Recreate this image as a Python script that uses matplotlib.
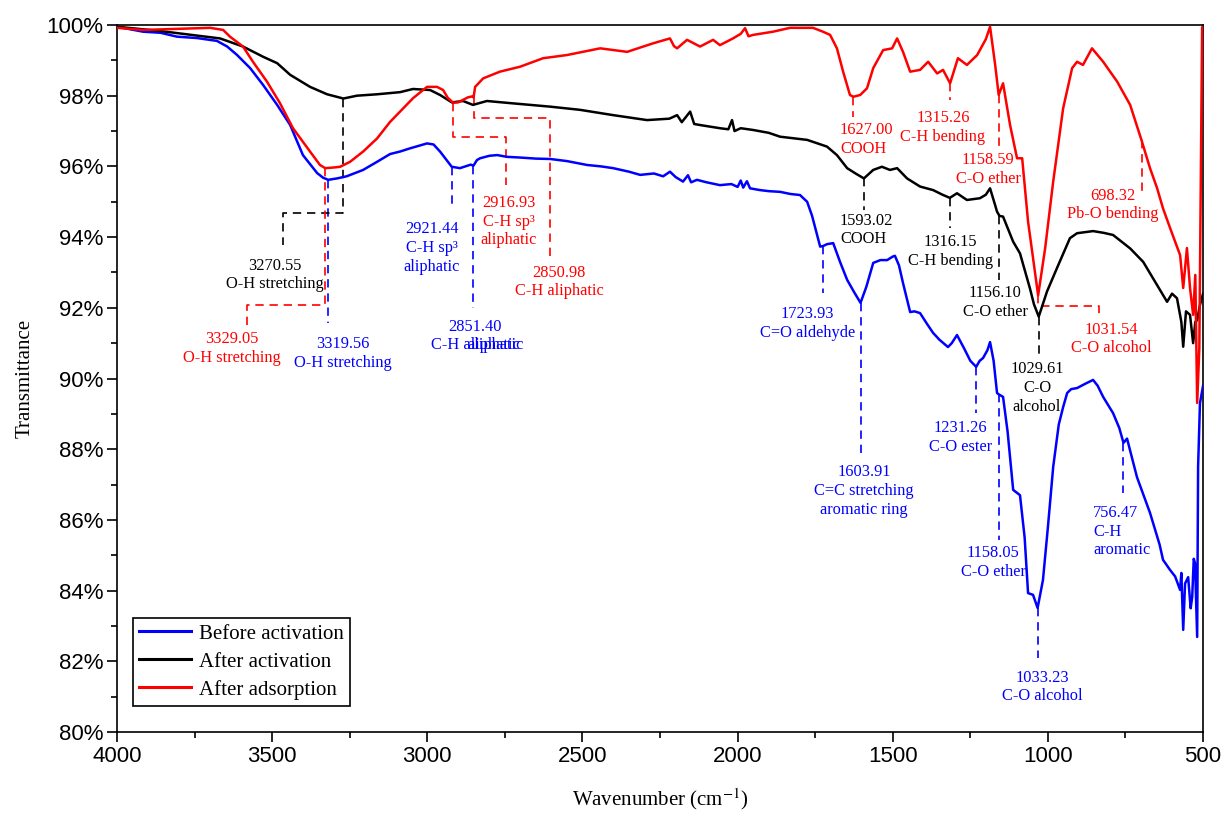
import numpy as np
import matplotlib
matplotlib.use("Agg")
import matplotlib.pyplot as plt
from matplotlib.ticker import MultipleLocator, PercentFormatter
from matplotlib.transforms import IdentityTransform

# FTIR spectra (wavenumber in cm-1, transmittance in %)
wn_before = [4000, 3916, 3860, 3807, 3742, 3678, 3645, 3613, 3571, 3529, 3484, 3442, 3401, 3355, 3336,
             3319.56, 3291, 3260, 3207, 3162, 3120, 3088, 3056, 3001, 2980, 2959, 2940, 2921.44, 2895,
             2870, 2860, 2851.40, 2840, 2830, 2800, 2775, 2743, 2700, 2650, 2604, 2550, 2485, 2440, 2401,
             2350, 2314, 2270, 2240, 2218, 2200, 2176, 2160, 2150, 2131, 2100, 2057, 2020, 2000, 1990,
             1982, 1970, 1960, 1928, 1900, 1863, 1830, 1799, 1776, 1760, 1745, 1734, 1723.93, 1712, 1692,
             1670, 1647, 1625, 1603.91, 1585, 1563, 1540, 1518, 1500, 1493, 1480, 1467, 1444, 1430, 1412,
             1390, 1370, 1350, 1322, 1310, 1293, 1270, 1250, 1231.26, 1220, 1209, 1195, 1186.5, 1175, 1164,
             1158.05, 1144.6, 1130, 1112, 1090, 1075, 1064, 1048, 1033.23, 1016, 1000, 983, 965, 951, 938,
             925, 906, 880, 854.5, 840, 822, 790, 770, 756.47, 745, 713, 671, 640, 629, 606, 590, 574, 570,
             564, 558, 548, 540, 535, 530, 526, 519, 516, 510, 500]
t_before = [99.95, 99.81, 99.78, 99.67, 99.63, 99.55, 99.39, 99.15, 98.78, 98.30, 97.74, 97.17, 96.32, 95.81, 95.68,
            95.62, 95.66, 95.72, 95.90, 96.13, 96.35, 96.42, 96.51, 96.65, 96.62, 96.42, 96.20, 95.99, 95.95,
            96.02, 96.05, 96.02, 96.18, 96.23, 96.30, 96.32, 96.27, 96.25, 96.22, 96.21, 96.15, 96.04, 96.00, 95.95,
            95.85, 95.76, 95.80, 95.72, 95.85, 95.70, 95.57, 95.75, 95.55, 95.62, 95.55, 95.47, 95.50, 95.42, 95.60,
            95.40, 95.58, 95.38, 95.33, 95.30, 95.28, 95.22, 95.19, 95.00, 94.60, 94.10, 93.73, 93.75, 93.80, 93.83,
            93.30, 92.79, 92.45, 92.14, 92.60, 93.27, 93.35, 93.35, 93.45, 93.47, 93.20, 92.70, 91.88, 91.90, 91.85,
            91.55, 91.29, 91.10, 90.89, 91.00, 91.23, 90.85, 90.50, 90.33, 90.50, 90.58, 90.80, 91.03, 90.50, 89.59,
            89.55, 89.48, 88.50, 86.85, 86.70, 85.50, 83.93, 83.88, 83.51, 84.30, 85.80, 87.50, 88.70, 89.19, 89.59,
            89.70, 89.73, 89.85, 89.96, 89.80, 89.48, 89.02, 88.60, 88.18, 88.30, 87.21, 86.20, 85.30, 84.87, 84.58, 84.40, 84.02, 84.50,
            82.89, 84.20, 84.38, 83.50, 83.82, 84.90, 84.78, 82.69, 87.50, 89.30, 89.80]

wn_after = [4000, 3861, 3742, 3668, 3594, 3529, 3484, 3442, 3378, 3323, 3270.55, 3227, 3162, 3088, 3046,
            2991, 2959, 2921, 2885, 2853, 2808, 2733, 2604, 2508, 2401, 2292, 2220, 2195, 2180, 2153, 2140,
            2121, 2057, 2030, 2018, 2010, 1990, 1950, 1900, 1863, 1776, 1712, 1680, 1647, 1620, 1593.02,
            1563, 1535, 1509, 1486, 1454, 1412, 1370, 1340, 1316.15, 1293, 1261, 1219, 1200, 1186.5, 1170,
            1164, 1156.10, 1144.6, 1112, 1090, 1058, 1045, 1029.61, 1003, 971, 929, 906, 854.5, 820, 790,
            735, 693, 648, 616, 600, 584, 570, 564, 555, 542, 532, 525, 519, 510, 500]
t_after = [99.95, 99.83, 99.70, 99.62, 99.39, 99.10, 98.92, 98.59, 98.25, 98.04, 97.92, 98.00, 98.04, 98.10, 98.19,
           98.16, 98.02, 97.81, 97.85, 97.74, 97.85, 97.79, 97.69, 97.60, 97.45, 97.31, 97.35, 97.45, 97.25, 97.55, 97.20,
           97.17, 97.08, 97.05, 97.31, 97.00, 97.08, 97.03, 96.95, 96.84, 96.75, 96.56, 96.32, 95.95, 95.80, 95.66,
           95.90, 95.99, 95.90, 95.95, 95.66, 95.43, 95.33, 95.20, 95.11, 95.24, 95.05, 95.10, 95.20, 95.38, 94.90,
           94.72, 94.60, 94.58, 93.87, 93.54, 92.55, 92.10, 91.75, 92.46, 93.12, 93.97, 94.11, 94.17, 94.12, 94.06,
           93.68, 93.30, 92.64, 92.17, 92.40, 92.27, 91.60, 90.90, 91.90, 91.80, 91.00, 91.60, 91.65, 92.08, 92.40]

wn_ads = [4000, 3916, 3807, 3700, 3658, 3636, 3594, 3562, 3517, 3475, 3433, 3378, 3346, 3329.05, 3300,
          3281, 3249, 3207, 3162, 3120, 3078, 3046, 3001, 2969, 2949, 2935, 2916.93, 2901, 2870, 2856,
          2850.98, 2846, 2820, 2766, 2701, 2627, 2550, 2443, 2356, 2273, 2218, 2205, 2195, 2163, 2121,
          2079, 2057, 2015, 1990, 1976, 1965, 1950, 1886, 1831, 1757, 1725, 1702, 1680, 1660, 1638,
          1627.00, 1605, 1583, 1563, 1531, 1502, 1486, 1467, 1444, 1412, 1386, 1357, 1338, 1315.26, 1290,
          1261, 1228, 1200, 1186.5, 1170, 1158.59, 1144.6, 1122, 1099.5, 1083, 1064, 1031.54, 1009, 983,
          951, 922, 906, 887, 858, 822, 777, 735, 698.32, 671, 648, 629, 606, 574, 564, 552, 542, 532,
          525, 519, 512, 503, 500]
t_ads = [99.92, 99.86, 99.89, 99.92, 99.86, 99.67, 99.39, 98.96, 98.40, 97.79, 97.08, 96.42, 96.04, 95.95, 95.97,
         95.99, 96.13, 96.42, 96.79, 97.26, 97.64, 97.93, 98.25, 98.25, 98.16, 97.95, 97.80, 97.81, 97.95, 97.98,
         97.95, 98.25, 98.49, 98.68, 98.82, 99.06, 99.15, 99.34, 99.24, 99.48, 99.62, 99.40, 99.34, 99.58, 99.39,
         99.58, 99.43, 99.62, 99.75, 99.91, 99.68, 99.72, 99.81, 99.92, 99.92, 99.81, 99.72, 99.34, 98.68, 98.02,
         97.97, 98.02, 98.21, 98.78, 99.29, 99.34, 99.62, 99.24, 98.68, 98.73, 98.96, 98.63, 98.73, 98.35, 99.06,
         98.87, 99.15, 99.60, 99.95, 98.87, 98.02, 98.35, 97.17, 96.23, 96.23, 94.44, 92.35, 93.68, 95.57,
         97.64, 98.78, 98.96, 98.87, 99.34, 98.96, 98.40, 97.74, 96.74, 95.95, 95.38, 94.81, 94.25, 93.49, 92.56, 93.69, 92.56, 91.80,
         92.93, 89.31, 90.86, 99.94, 99.94]

# band assignments
peaks_before = [3319.56, 2921.44, 2851.40, 1723.93, 1603.91, 1231.26, 1158.05, 1033.23, 756.47]
labels_before = ["O-H stretching", "C-H sp³\naliphatic", "C-H aliphatic", "C=O aldehyde",
                 "C=C stretching\naromatic ring", "C-O ester", "C-O ether", "C-O alcohol", "C-H\naromatic"]
peaks_after = [3270.55, 1593.02, 1316.15, 1156.10, 1029.61]
labels_after = ["O-H stretching", "COOH", "C-H bending", "C-O ether", "C-O\nalcohol"]
peaks_ads = [3329.05, 2916.93, 2850.98, 1627.00, 1315.26, 1158.59, 1031.54, 698.32]
labels_ads = ["O-H stretching", "C-H sp³\naliphatic", "C-H aliphatic", "COOH", "C-H bending",
              "C-O ether", "C-O alcohol", "Pb-O bending"]

# label placement: (text x, text y, ha, leader end y, elbow x or None, elbow y)
layout_before = [(3272, 90.71, "center", 91.57, None, None),
                 (2985, 93.69, "center", 94.82, None, None),
                 (2846, 91.20, "center", 91.99, None, None),
                 (1776, 91.56, "center", 92.42, None, None),
                 (1592, 86.82, "center", 87.89, None, None),
                 (1283, 88.33, "center", 89.02, None, None),
                 (1177, 84.80, "center", 85.43, None, None),
                 (1019, 81.27, "center", 82.09, None, None),
                 (854, 85.67, "left", 86.76, None, None)]
layout_after = [(3491, 92.93, "center", 93.78, 3465, 94.68),
                (1670, 94.20, "left", 94.77, None, None),
                (1314, 93.59, "center", 94.25, None, None),
                (1170, 92.15, "center", 92.79, None, None),
                (1035, 89.73, "center", 90.66, None, None)]
layout_ads = [(3629, 90.85, "center", 91.51, 3582, 92.08),
              (2737, 94.44, "center", 95.47, 2746, 96.84),
              (2575, 92.73, "center", 93.41, 2604, 97.36),
              (1670, 96.76, "left", 97.40, None, None),
              (1338, 97.10, "center", 97.88, None, None),
              (1193, 95.91, "center", 96.46, None, None),
              (796, 91.12, "center", 91.80, 834, 92.05),
              (790, 94.91, "center", 95.24, None, None)]

plt.rcParams["font.family"] = "Liberation Sans"
plt.rcParams["mathtext.fontset"] = "stix"
serif = "Liberation Serif"

fig = plt.figure(figsize=(12.23, 8.14), dpi=100)
ax = fig.add_axes([0.0957, 0.1007, 0.888, 0.8686])

series = [(wn_before, t_before, "#0000FF", "Before activation", peaks_before, labels_before, layout_before),
          (wn_after, t_after, "black", "After activation", peaks_after, labels_after, layout_after),
          (wn_ads, t_ads, "#FF0000", "After adsorption", peaks_ads, labels_ads, layout_ads)]

for wn, t, col, name, pk, lab, lay in series:
    ax.plot(wn, t, color=col, lw=1.8, label=name, zorder=3)

texts = {}
for wn, t, col, name, pk, lab, lay in series:
    wn_arr = np.array(wn)[::-1]
    t_arr = np.array(t)[::-1]
    for p, txt, (tx, ty, ha, y_end, ex, ey) in zip(pk, lab, lay):
        y0 = np.interp(p, wn_arr, t_arr)
        if ex is None:
            xs, ys = [p, p], [y0, y_end]
        else:
            xs, ys = [p, p, ex, ex], [y0, ey, ey, y_end]
        ax.plot(xs, ys, color=col, lw=1.2, linestyle=(0, (5, 3.5)), zorder=2)
        texts[(name, p)] = ax.text(tx, ty, f"{p:.2f}\n{txt}", color=col, fontsize=11.8, family=serif,
                                   ha=ha, va="center", linespacing=1.22, zorder=4)

ax.set_xlim(4000, 500)
ax.set_ylim(80, 100)
ax.xaxis.set_major_locator(MultipleLocator(500))
ax.xaxis.set_minor_locator(MultipleLocator(250))
ax.yaxis.set_major_locator(MultipleLocator(2))
ax.yaxis.set_minor_locator(MultipleLocator(1))
ax.yaxis.set_major_formatter(PercentFormatter(xmax=100, decimals=0))
ax.tick_params(which="both", direction="out", top=False, right=False, width=1.2)
ax.tick_params(which="major", length=7, labelsize=16, pad=3)
ax.tick_params(which="minor", length=4)
for s in ax.spines.values():
    s.set_linewidth(1.2)

ax.set_xlabel("Wavenumber (cm$^{-1}$)", family=serif, fontsize=15, labelpad=14)
ax.set_ylabel("Transmittance", family=serif, fontsize=15, labelpad=8)

leg = ax.legend(loc="lower left", bbox_to_anchor=(0.0147, 0.0368), borderaxespad=0,
                fancybox=False, edgecolor="black", framealpha=1,
                prop={"family": serif, "size": 15}, handlelength=2.5, handletextpad=0.35,
                labelspacing=0.4, borderpad=0.3)
leg.get_frame().set_linewidth(1.2)
for line in leg.get_lines():
    line.set_linewidth(2.2)

# the 2851.40 label carries a second, slightly shifted "aliphatic"
renderer = fig.canvas.get_renderer()
bb = texts[("Before activation", 2851.40)].get_window_extent(renderer)
fig.text(bb.x1 + 4, bb.y0, "aliphatic", color="#0000FF", fontsize=11.8, family=serif,
         ha="right", va="bottom", transform=IdentityTransform(), zorder=4)

fig.savefig("out.png", dpi=100)
